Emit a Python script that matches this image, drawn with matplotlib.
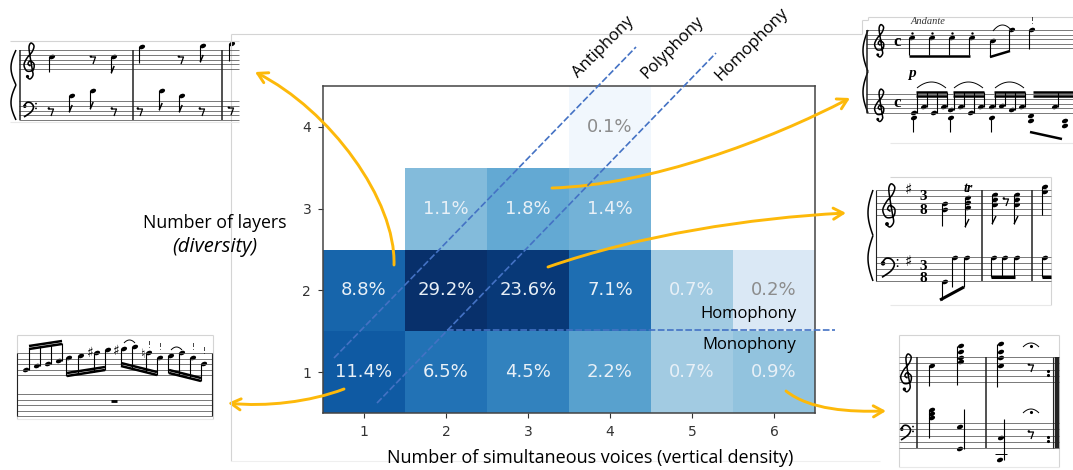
import numpy as np
import matplotlib
matplotlib.use("Agg")
import matplotlib.pyplot as plt
from matplotlib.colors import LogNorm
from matplotlib.patches import Ellipse, FancyArrowPatch
from matplotlib.path import Path

voices = [1, 2, 3, 4, 5, 6]
layers = [1, 2, 3, 4]
shares = [
    [11.4, 6.5, 4.5, 2.2, 0.7, 0.9],
    [8.8, 29.2, 23.6, 7.1, 0.7, 0.2],
    [np.nan, 1.1, 1.8, 1.4, np.nan, np.nan],
    [np.nan, np.nan, np.nan, 0.1, np.nan, np.nan],
]
grey_below = 0.5

W, H = 1073, 470
YELLOW = '#fdb90a'
BLUE = '#4472c4'
LABEL_FONT = ['Open Sans', 'DejaVu Sans']

fig = plt.figure(figsize=(W / 100, H / 100), dpi=100, facecolor='white')

# ─── Heatmap ───────────────────────────────────────
ax = fig.add_axes([323 / W, 1 - 413 / H, (815 - 323) / W, (413 - 86) / H], zorder=2)
grid = np.ma.masked_invalid(np.array(shares))
ax.imshow(grid, origin='lower', aspect='auto', cmap='Blues', norm=LogNorm(vmin=0.085, vmax=29.2))
ax.set_xticks(range(len(voices)), voices)
ax.set_yticks(range(len(layers)), layers)
ax.tick_params(labelsize=10, colors='#333333', length=3.5, pad=5)
for s in ax.spines.values():
    s.set_color('#444444')
    s.set_linewidth(1.1)
for r, row in enumerate(shares):
    for c, v in enumerate(row):
        if not np.isnan(v):
            ax.text(c, r, f"{v}%", ha='center', va='center', fontsize=13,
                    color='#8c8c8c' if v < grey_below else '#e8f0f7')

# ─── Capa de anotaciones en pixeles ────────────────
ov = fig.add_axes([0, 0, 1, 1], zorder=3)
ov.set_xlim(0, W)
ov.set_ylim(H, 0)
ov.axis('off')
ov.patch.set_alpha(0)


def line(xs, ys, color='black', lw=0.8, **kw):
    ov.plot(xs, ys, color=color, lw=lw, solid_capstyle='butt', **kw)


def frame(segments, color='#d4d4d4'):
    for x0, y0, x1, y1 in segments:
        line([x0, x1], [y0, y1], color=color, lw=0.8)


def staff(x0, x1, top, bottom):
    for y in np.linspace(top, bottom, 5):
        line([x0, x1], [y, y], color='#555555', lw=0.55)


def bar(x, top, bottom, lw=1.1):
    line([x, x], [top, bottom], color='#222222', lw=lw)


def note(x, y, stem=None, flag=False):
    ov.add_patch(Ellipse((x, y), 6.4, 4.2, angle=-22, color='black', lw=0))
    if stem is not None:
        sx = x + 2.8 if stem < y else x - 2.8
        line([sx, sx], [y, stem], lw=0.8)
        if flag:
            line([sx, sx + 3], [stem, stem - 7], lw=1.1)


def rest(x, y):
    line([x - 2.5, x + 2.5, x], [y - 2, y - 2, y + 5], lw=0.9)
    ov.add_patch(Ellipse((x - 2.2, y - 2.6), 2.4, 2.4, color='black', lw=0))


def beam(x0, y0, x1, y1, lw=1.8):
    line([x0, x1], [y0, y1], lw=lw)


def slur(x0, x1, y, rise):
    t = np.linspace(0, 1, 20)
    line(x0 + (x1 - x0) * t, y - 4 * rise * t * (1 - t), lw=0.7)


def smooth(pts, n=14):
    # Catmull-Rom para las claves
    p = np.array(pts, dtype=float)
    p = np.vstack([p[0], p, p[-1]])
    out = []
    t = np.linspace(0, 1, n)[:, None]
    for i in range(1, len(p) - 2):
        a, b, c, d = p[i - 1], p[i], p[i + 1], p[i + 2]
        out.append(0.5 * (2 * b + (c - a) * t + (2 * a - 5 * b + 4 * c - d) * t ** 2
                          + (3 * b - a - 3 * c + d) * t ** 3))
    return np.vstack(out)


def treble(x, y, s=1.0):
    pts = [(0.5, 2), (-2, 0), (0, -3), (4, 0), (3, 6), (-3, 7), (-6, 1), (-3, -6), (2, -12),
           (4, -18), (1, -21), (-1, -17), (0, -8), (2, 4), (3, 11), (0, 15), (-3, 13)]
    c = smooth(pts) * s + (x, y)
    line(c[:, 0], c[:, 1], lw=1.1)
    ov.add_patch(Ellipse((x - 2.5 * s, y + 12.5 * s), 3.2 * s, 3.2 * s, color='black', lw=0))


def bass(x, y, s=1.0):
    pts = [(0, 0), (3, -3.5), (7, -3), (9.5, 1), (7, 6), (0, 11)]
    c = smooth(pts) * s + (x, y)
    line(c[:, 0], c[:, 1], lw=1.2)
    ov.add_patch(Ellipse((x + 0.8 * s, y + 0.3 * s), 3.4 * s, 3.4 * s, color='black', lw=0))
    for dy in (-2.4, 2.4):
        ov.add_patch(Ellipse((x + 12 * s, y + dy * s), 1.8, 1.8, color='black', lw=0))


def brace(x, top, bottom):
    mid = (top + bottom) / 2
    t = np.linspace(0, 1, 30)
    bow = np.sin(np.pi * t)
    line(x + 4 - 5 * bow, top + (mid - top) * t, lw=1.1)
    line(x + 4 - 5 * bow, mid + (bottom - mid) * t, lw=1.1)


# Marco gris de la diapositiva
frame([(231, 34, 862, 34), (231, 34, 231, 461)])
frame([(231, 461, 880, 461)], color='#efefef')

# ─── Partitura superior izquierda ──────────────────
frame([(10, 41, 239, 41)])
frame([(10, 122, 239, 122)], color='#e8e8e8')
staff(19, 239, 50, 69)
staff(19, 239, 101, 120)
brace(12, 50, 120)
for x in (19.5, 133, 222):
    bar(x, 50, 120)
treble(30, 64)
bass(24, 106)
for x, y, st, fl in [(52, 57, 72, False), (114, 57, 73, True), (142, 47, 63, False),
                     (203, 46, 62, True), (232, 44, 61, False), (72, 96, 112, True),
                     (93, 91, 109, True), (162, 91, 110, True), (182, 96, 112, True)]:
    note(x, y, st, fl)
for x, y in [(93, 59), (181, 59), (51, 111), (114, 111), (140, 111), (202, 111), (231, 110)]:
    rest(x, y)

# ─── Partitura inferior izquierda ──────────────────
frame([(17, 335, 213, 335), (17, 335, 17, 419), (213, 335, 213, 419)])
frame([(17, 419, 213, 419)], color='#e8e8e8')
staff(17, 212, 353, 375)
staff(17, 212, 394, 416)
bar(17, 353, 416, lw=0.8)
bar(212, 353, 416, lw=0.8)
up_x = [26, 37, 48, 59]
up_y = [370, 366, 364, 361]
for x, y in zip(up_x, up_y):
    note(x, y, 348 - (x - 26) * 0.14)
beam(29, 349, 62, 344)
beam(29, 346, 62, 341)
for xs, ys, bm in [([69, 81, 97, 108], [358, 356, 353, 350], (67, 376, 105, 370)),
                   ([124, 135, 149, 160], [349, 347, 353, 358], (121, 366, 157, 375)),
                   ([171, 182, 193, 204], [356, 353, 358, 364], (169, 373, 201, 381))]:
    for i, (x, y) in enumerate(zip(xs, ys)):
        note(x, y, bm[1] + (bm[3] - bm[1]) * i / 3)
    beam(*bm)
    beam(bm[0], bm[1] - 3, bm[2], bm[3] - 3)
for x, y in [(90, 353), (116, 351)]:
    ov.text(x, y, '♯', ha='center', va='center', fontsize=10)
ov.text(143, 354, '♮', ha='center', va='center', fontsize=9)
slur(124, 135, 343, 3)
slur(171, 182, 350, 3)
for x, y in [(149, 345), (160, 347), (193, 347), (204, 352)]:
    ov.text(x, y, '!', ha='center', va='center', fontsize=5.5)
beam(111, 401, 117, 401, lw=2)

# ─── Partitura superior derecha ────────────────────
frame([(868, 17, 1073, 17), (862, 20, 868, 20), (862, 20, 862, 34), (868, 17, 868, 20)])
frame([(890, 143, 1073, 143)], color='#e8e8e8')
staff(866, 1073, 30, 48)
staff(866, 1073, 94, 113)
brace(864, 30, 113)
bar(867, 30, 113)
treble(880, 43.5, 0.9)
treble(880, 108, 0.9)
ov.text(897, 42, 'c', family='Liberation Serif', fontweight='bold', fontsize=12, ha='center', va='center')
ov.text(897, 103, 'c', family='Liberation Serif', fontweight='bold', fontsize=12, ha='center', va='center')
ov.text(928, 22, 'Andante', family='Liberation Serif', style='italic', fontsize=7.5, ha='center', va='center', color='#333333')
ov.text(912, 73, 'p', family='Liberation Serif', style='italic', fontweight='bold', fontsize=11, ha='center', va='center')
ov.text(1032, 22, '!', fontsize=5.5, ha='center', va='center')
for x in (912, 932, 952, 972):
    note(x, 38, 55)
    ov.plot([x], [33], '.', color='black', ms=1.5)
beam(909, 55.5, 970, 55.5)
note(993, 41, 57)
note(1012, 30, 51)
beam(990, 57, 1010, 51)
slur(993, 1012, 31, 6)
note(1032, 30, 49)
for x0, ys in [(914, (113, 107, 113, 107)), (951, (110, 107, 113, 107)), (992, (107, 106, 110, 107))]:
    xs = [x0 + i * 10 for i in range(4)]
    for x, y in zip(xs, ys):
        note(x, y, 92)
    note(x0, 118)
    line([x0 - 1, x0 - 1], [118, 132], lw=0.8)
    beam(x0 + 2, 92, xs[-1] + 3, 92)
    beam(x0 + 2, 96, xs[-1] + 3, 96)
    slur(x0 + 3, xs[-1] + 2, 88, 6)
note(1031, 116)
note(1031, 121)
note(1055, 107, 92)
note(1065, 121)
note(1065, 126)
beam(1030, 132, 1062, 139)
beam(1033, 92, 1073, 92)
beam(1033, 96, 1073, 96)

# ─── Partitura central derecha ─────────────────────
frame([(890, 177, 1051, 177), (1051, 177, 1051, 305)])
frame([(890, 305, 1051, 305)], color='#e8e8e8')
staff(876, 1051, 190, 215)
staff(876, 1051, 257, 281)
brace(869, 190, 281)
bar(876, 190, 281, lw=0.8)
bar(982, 190, 281)
bar(1032, 190, 281)
treble(890, 209, 1.2)
bass(882, 263, 1.3)
for y in (190, 262):
    ov.text(908, y, '♯', fontsize=11, ha='center', va='center')
for x, y0, y1 in [(923, 197, 210), (923, 266, 279)]:
    ov.text(x, y0, '3', family='Liberation Serif', fontweight='bold', fontsize=11, ha='center', va='center')
    ov.text(x, y1, '8', family='Liberation Serif', fontweight='bold', fontsize=11, ha='center', va='center')
ov.text(968, 188, 'tr', family='Liberation Serif', style='italic', fontweight='bold', fontsize=10, ha='center', va='center')
for x, ys, st, fl in [(945, (204, 210), 226, False), (968, (198, 203, 208), 227, True),
                      (995, (195, 200, 205), 224, True), (1017, (195, 200, 205), 224, True),
                      (1045, (187, 192), 215, False)]:
    for y in ys:
        note(x, y)
    line([x - 3, x - 3], [ys[0], st], lw=0.8)
    if fl:
        line([x - 3, x + 1], [st, st - 8], lw=1.0)
rest(1006, 201)
note(945, 282, 300)
note(955, 258, 287)
note(967, 258, 287)
beam(940, 300, 964, 287, lw=2.2)
for x in (994, 1005, 1017):
    note(x, 258, 277)
beam(991, 277, 1015, 277, lw=2.2)
note(1045, 258, 277)
beam(1042, 277, 1051, 277, lw=2.2)

# ─── Partitura inferior derecha ────────────────────
frame([(899, 335, 1059, 335), (899, 335, 899, 467), (1059, 335, 1059, 467)])
frame([(899, 467, 1059, 467)], color='#e8e8e8')
staff(899, 1059, 357, 382)
staff(899, 1059, 423, 448)
bar(917, 357, 448)
bar(986, 357, 448)
bar(1057, 357, 448, lw=3.2)
bar(1053, 357, 448, lw=0.8)
treble(907, 376, 1.05)
bass(901, 429, 1.0)
note(932, 366, 386)
for y in (346, 352, 358, 362):
    note(961, y)
line([957, 957], [346, 385], lw=0.8)
for y in (344, 352, 358, 366):
    note(1001, y)
line([997, 997], [344, 387], lw=0.8)
for y in (410, 414, 418):
    note(932, y)
line([928.5, 928.5], [410, 438], lw=0.8)
note(960, 427)
note(960, 449)
line([964, 964], [409, 449], lw=0.8)
note(1001, 438)
note(1000, 460)
line([1004, 1004], [419, 460], lw=0.8)
line([995, 1007], [454, 454], lw=0.7)
for y_rest, y_ferm, y_dots in [(367, 347, (371, 375)), (434, 413, (437, 441))]:
    rest(1031, y_rest)
    slur(1023, 1039, y_ferm, 4)
    ov.plot([1031], [y_ferm - 1], '.', color='black', ms=2.5)
    for y in y_dots:
        ov.plot([1048], [y], '.', color='black', ms=2.5)

# ─── Lineas punteadas ──────────────────────────────
for xs, ys in [((334, 636), (358, 47)), ((377, 716), (403, 53)), ((447, 835), (330, 330))]:
    ov.plot(xs, ys, color=BLUE, lw=1.2, ls=(0, (4, 1.5)))

# ─── Flechas ───────────────────────────────────────
curves = [
    [(394, 265), (396, 200), (330, 110), (255, 72)],
    [(552, 188), (650, 185), (770, 140), (850, 98)],
    [(548, 267), (640, 235), (750, 218), (846, 213)],
    [(344, 389), (310, 402), (265, 407), (228, 403)],
    [(786, 391), (810, 410), (850, 412), (886, 411)],
]
for pts in curves:
    p = Path(pts, [Path.MOVETO, Path.CURVE4, Path.CURVE4, Path.CURVE4])
    ov.add_patch(FancyArrowPatch(path=p, arrowstyle='->,head_length=7,head_width=4',
                                 color=YELLOW, lw=2.1, mutation_scale=1, shrinkA=0, shrinkB=0))

# ─── Textos ────────────────────────────────────────
for x, y, txt in [(603, 47, 'Antiphony'), (672, 48, 'Polyphony'), (752, 44, 'Homophony')]:
    ov.text(x, y, txt, rotation=45, rotation_mode='anchor', ha='center', va='center',
            fontsize=12, family=LABEL_FONT, color='black')
ov.text(749, 314, 'Homophony', ha='center', va='center', fontsize=12, family=LABEL_FONT, color='black')
ov.text(749, 345, 'Monophony', ha='center', va='center', fontsize=12, family=LABEL_FONT, color='black')
ov.text(215, 223, 'Number of layers', ha='center', va='center', fontsize=12.8, family=LABEL_FONT, color='black')
ov.text(215, 247, '(diversity)', ha='center', va='center', fontsize=14.5, family=LABEL_FONT, style='italic', color='black')
ov.text(590, 458, 'Number of simultaneous voices (vertical density)', ha='center', va='center',
        fontsize=13, family=LABEL_FONT, color='black')

fig.savefig("out.png", dpi=100)
